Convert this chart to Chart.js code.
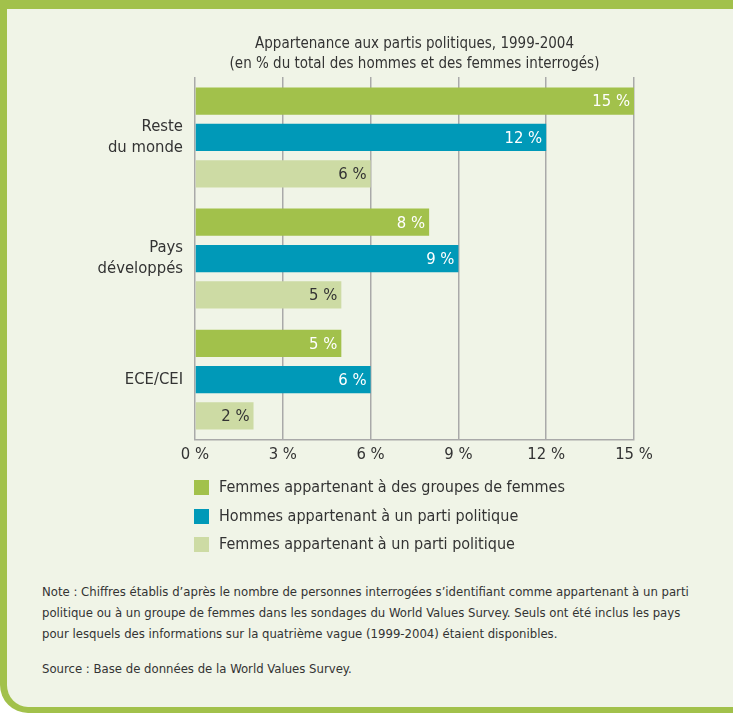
<!DOCTYPE html>
<html><head><meta charset="utf-8">
<script src="https://cdn.jsdelivr.net/npm/chart.js@4.4.0/dist/chart.umd.min.js"></script>
<style>
html,body{margin:0;padding:0;background:#fff;width:733px;height:713px;overflow:hidden;}
#frame{position:absolute;left:0;top:0;width:800px;height:698px;background:#f0f4e7;border-left:7px solid #a2c14b;border-top:9px solid #a2c14b;border-bottom:6px solid #a2c14b;border-radius:0 0 0 28px;}
#wrap{position:absolute;left:95px;top:0;width:638px;height:479px;}
.f{font-family:'Liberation Sans Narrow','DejaVu Sans Condensed',sans-serif;color:#333;}
#legend{position:absolute;left:194px;top:473px;}
#legend .row{position:relative;height:28.5px;font-size:16px;line-height:28.5px;}
#legend .sw{position:absolute;left:0;top:7px;width:15px;height:15px;}
#legend .tx{position:absolute;left:25px;top:0;white-space:nowrap;}
#note{position:absolute;left:42px;top:581px;width:690px;font-size:13px;line-height:21px;}
#source{position:absolute;left:42px;top:658px;font-size:13px;line-height:21px;white-space:nowrap;}
</style></head>
<body>
<div id="frame"></div>
<div id="wrap"><canvas id="c" width="638" height="479"></canvas></div>
<div id="legend" class="f"></div>
<div id="note" class="f">Note : Chiffres établis d’après le nombre de personnes interrogées s’identifiant comme appartenant à un parti<br>politique ou à un groupe de femmes dans les sondages du World Values Survey. Seuls ont été inclus les pays<br>pour lesquels des informations sur la quatrième vague (1999-2004) étaient disponibles.</div>
<div id="source" class="f">Source : Base de données de la World Values Survey.</div>
<script>
const FONT = "'Liberation Sans Narrow','DejaVu Sans Condensed',sans-serif";
const categories = [['Reste','du monde'],['Pays','développés'],['ECE/CEI']];
const seriesNames = ['Femmes appartenant à des groupes de femmes','Hommes appartenant à un parti politique','Femmes appartenant à un parti politique'];
const femmesGroupes = [15, 8, 5];
const hommesParti = [12, 9, 6];
const femmesParti = [6, 5, 2];
const xTicks = [0, 3, 6, 9, 12, 15];
const colors = ['#a2c14b', '#0099b8', '#cddba4'];
const labelColors = ['#ffffff', '#ffffff', '#333333'];
const titleLines = ['Appartenance aux partis politiques, 1999-2004','(en % du total des hommes et des femmes interrogés)'];

const valueLabels = {
  id: 'valueLabels',
  afterDatasetsDraw(chart) {
    const ctx = chart.ctx;
    chart.data.datasets.forEach((ds, i) => {
      const meta = chart.getDatasetMeta(i);
      meta.data.forEach((bar, j) => {
        ctx.save();
        ctx.font = "16.5px " + FONT;
        ctx.fillStyle = labelColors[i];
        ctx.textAlign = 'right';
        ctx.textBaseline = 'middle';
        ctx.fillText(ds.data[j] + ' %', bar.x - 4, bar.y + 1);
        ctx.restore();
      });
    });
  }
};

new Chart(document.getElementById('c'), {
  type: 'bar',
  data: {
    labels: categories,
    datasets: [femmesGroupes, hommesParti, femmesParti].map((d, i) => ({
      label: seriesNames[i], data: d, backgroundColor: colors[i], borderWidth: 0,
      categoryPercentage: 0.9, barPercentage: 0.75
    }))
  },
  options: {
    indexAxis: 'y', responsive: false, animation: false, devicePixelRatio: 1,
    layout: { padding: { top: 34, right: 99, bottom: 9, left: 0 } },
    plugins: {
      legend: { display: false }, tooltip: { enabled: false },
      title: { display: true, text: titleLines, fullSize: false, color: '#333',
        font: { family: FONT, size: 15, weight: 'normal', lineHeight: 1.33 }, padding: { top: 0, bottom: 3 } }
    },
    scales: {
      x: { min: 0, max: 15, afterBuildTicks: s => { s.ticks = xTicks.map(v => ({ value: v })); },
        grid: { color: '#a9a9a9', lineWidth: 1.5, drawTicks: false },
        border: { color: '#a9a9a9', width: 1.5 },
        ticks: { padding: 5, color: '#333', font: { family: FONT, size: 16.5 }, callback: v => v + ' %' } },
      y: { grid: { display: false, drawTicks: false }, border: { display: false },
        afterFit: s => { s.width = 100; },
        ticks: { padding: 12, color: '#333', font: { family: FONT, size: 16.5, lineHeight: 1.28 } } }
    }
  },
  plugins: [valueLabels]
});

const lg = document.getElementById('legend');
seriesNames.forEach((n, i) => {
  const r = document.createElement('div'); r.className = 'row';
  r.innerHTML = '<div class="sw" style="background:' + colors[i] + '"></div><div class="tx"></div>';
  r.querySelector('.tx').textContent = n;
  lg.appendChild(r);
});
</script>
</body></html>
